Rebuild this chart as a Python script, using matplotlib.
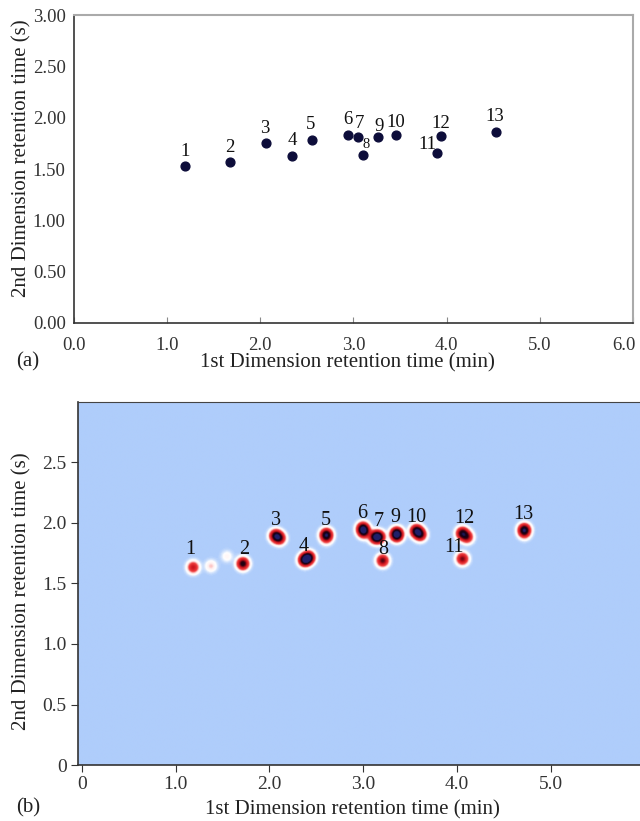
import numpy as np
import matplotlib
matplotlib.use("Agg")
import matplotlib.pyplot as plt
import matplotlib.transforms as mtrans
from matplotlib.colors import LinearSegmentedColormap

plt.rcParams['font.family'] = ['Liberation Serif', 'DejaVu Serif']

# (a) peak apex table
peak_no = ['1', '2', '3', '4', '5', '6', '7', '8', '9', '10', '11', '12', '13']
t1_a = [1.19, 1.68, 2.06, 2.34, 2.55, 2.94, 3.05, 3.10, 3.26, 3.46, 3.90, 3.94, 4.53]
t2_a = [1.534, 1.573, 1.755, 1.628, 1.784, 1.833, 1.813, 1.635, 1.813, 1.833, 1.657, 1.823, 1.859]

# (b) contour plot, sub-peaks (peak id, 1st dim, 2nd dim, relative height)
blob_id = [1, 0, 0, 2, 3, 3, 4, 4, 5, 5, 6, 6, 7, 7, 8, 9, 9, 10, 10, 11, 12, 12, 13, 13]
t1_b = [1.18, 1.37, 1.54, 1.71, 2.06, 2.10, 2.37, 2.41, 2.60, 2.60, 2.99, 3.00, 3.12, 3.16,
        3.20, 3.35, 3.35, 3.56, 3.60, 4.05, 4.05, 4.10, 4.71, 4.71]
t2_b = [1.63, 1.64, 1.72, 1.66, 1.89, 1.87, 1.69, 1.71, 1.90, 1.87, 1.95, 1.92, 1.88, 1.88,
        1.685, 1.91, 1.89, 1.93, 1.90, 1.70, 1.91, 1.88, 1.94, 1.91]
h_b = [0.40, 0.12, 0.07, 0.75, 0.8, 0.6, 1.0, 0.95, 0.85, 0.25, 0.9, 0.6, 0.8, 0.8,
       0.6, 0.85, 0.6, 0.9, 0.7, 0.55, 0.8, 0.5, 0.85, 0.25]

# label offsets (points)
off_a = [(0, 10), (-0.6, 10), (-0.6, 10.3), (0, 10.8), (-0.9, 11), (0, 11), (1.2, 9.6),
         (2.4, 7.9), (0.9, 7.7), (-0.6, 9.1), (-7.3, 6), (0, 8.9), (-0.6, 11.5)]
off_b = [(-1.5, 13.2), (1.2, 10.3), (0.9, 11.3), (-0.6, 10.3), (0, 10.8), (0, 11.3), (2.9, 11.5),
         (0.6, 8.4), (-0.6, 12), (0.6, 10.3), (-5.3, 8.4), (1.5, 10.8), (-0.6, 11)]

fig = plt.figure(figsize=(6.4, 8.21), dpi=100)

# ---------- (a)
ax1 = fig.add_axes([0.1156, 0.6066, 0.8734, 0.3751])
ax1.scatter(t1_a, t2_a, s=40, color='#0d0d3a', zorder=3)
for i, lab in enumerate(peak_no):
    fs = 10.5 if lab == '8' else 13.5
    ax1.annotate(lab, (t1_a[i], t2_a[i]), xytext=off_a[i], textcoords='offset points',
                 ha='center', va='center', fontsize=fs, color='#111111')
ax1.set_xlim(0, 6.0)
ax1.set_ylim(0, 3.0)
ax1.set_xticks(np.arange(0, 6.01, 1.0))
ax1.set_xticklabels(['0.0', '1.0', '2.0', '3.0', '4.0', '5.0', '6.0'])
ax1.set_yticks(np.arange(0, 3.01, 0.5))
ax1.set_yticklabels(['0.00', '0.50', '1.00', '1.50', '2.00', '2.50', '3.00'])
ax1.tick_params(axis='x', direction='in', length=4, pad=10, labelsize=13.5, color='#888888', labelcolor='#333333')
ax1.tick_params(axis='y', length=0, pad=6, labelsize=13.5, labelcolor='#333333')
last = ax1.get_xticklabels()[-1]
last.set_transform(last.get_transform() + mtrans.ScaledTranslation(-9 / 100, 0, fig.dpi_scale_trans))
for s in ['top', 'right']:
    ax1.spines[s].set_color('#aaaaaa')
    ax1.spines[s].set_linewidth(1.5)
for s in ['left', 'bottom']:
    ax1.spines[s].set_color('#333333')
    ax1.spines[s].set_linewidth(1.2)
ax1.set_xlabel('1st Dimension retention time (min)', fontsize=15, color='#222222', va='center')
ax1.set_ylabel('2nd Dimension retention time (s)', fontsize=15, color='#222222', va='center')
ax1.xaxis.set_label_coords(0.49, -0.128)
ax1.yaxis.set_label_coords(-0.094, 0.536)
fig.text(0.044, 0.559, '(a)', fontsize=15, ha='center', va='center', color='#222222')

# ---------- (b)
ax2 = fig.add_axes([0.1213, 0.0682, 0.8787, 0.4422])
xmin, xmax, ymin, ymax = -0.045, 5.95, 0.0, 3.0
gx = np.linspace(xmin, xmax, 900)
gy = np.linspace(ymin, ymax, 450)
X, Y = np.meshgrid(gx, gy)
Z = np.zeros_like(X)
for x0, y0, h in zip(t1_b, t2_b, h_b):
    Z += h * np.exp(-((X - x0) ** 2 / (2 * 0.038 ** 2) + (Y - y0) ** 2 / (2 * 0.030 ** 2)))
cmap = LinearSegmentedColormap.from_list('gc', [
    (0.0, '#afcdfb'), (0.04, '#ffffff'), (0.09, '#fff0f0'), (0.20, '#f04040'), (0.42, '#c8101a'),
    (0.65, '#2a0010'), (0.85, '#100018'), (1.0, '#20206a')])
ax2.imshow(Z, extent=[xmin, xmax, ymin, ymax], origin='lower', aspect='auto',
           cmap=cmap, vmin=0, vmax=1.0, interpolation='bilinear')
first = {}
for i, b in enumerate(blob_id):
    if b > 0 and b not in first:
        first[b] = i
for k, lab in enumerate(peak_no):
    i = first[k + 1]
    ax2.annotate(lab, (t1_b[i], t2_b[i]), xytext=off_b[k], textcoords='offset points',
                 ha='center', va='center', fontsize=14.5, color='#111111')
ax2.set_xlim(xmin, xmax)
ax2.set_ylim(ymin, ymax)
ax2.set_xticks(np.arange(0, 5.01, 1.0))
ax2.set_xticklabels(['0', '1.0', '2.0', '3.0', '4.0', '5.0'])
ax2.set_yticks(np.arange(0, 2.51, 0.5))
ax2.set_yticklabels(['0', '0.5', '1.0', '1.5', '2.0', '2.5'])
ax2.tick_params(direction='out', length=5, labelsize=14, labelcolor='#333333', color='#333333')
ax2.tick_params(axis='x', pad=3)
ax2.tick_params(axis='y', pad=3)
ax2.spines['right'].set_visible(False)
ax2.spines['top'].set_color('#444444')
for s in ['left', 'bottom']:
    ax2.spines[s].set_color('#333333')
    ax2.spines[s].set_linewidth(1.2)
ax2.set_xlabel('1st Dimension retention time (min)', fontsize=15, color='#222222', va='center')
ax2.set_ylabel('2nd Dimension retention time (s)', fontsize=15, color='#222222', va='center')
ax2.xaxis.set_label_coords(0.489, -0.124)
ax2.yaxis.set_label_coords(-0.1, 0.48)
fig.text(0.044, 0.016, '(b)', fontsize=15, ha='center', va='center', color='#222222')

fig.savefig('out.png', dpi=100)
